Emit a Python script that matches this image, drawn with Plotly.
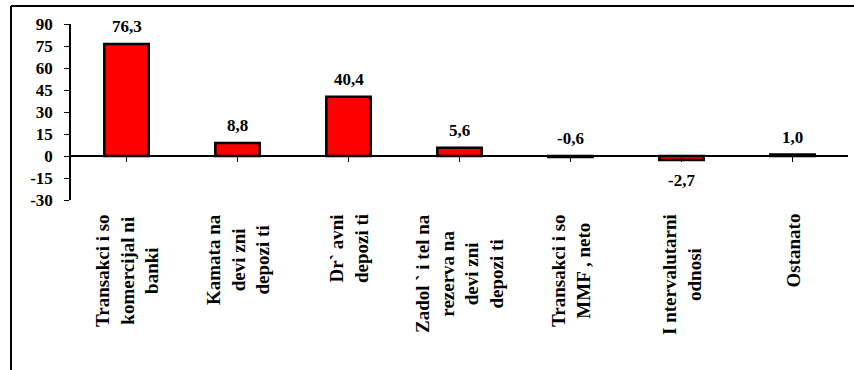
import plotly.graph_objects as go

categories = [
    "Transakci i so<br>komercijal ni<br>banki",
    "Kamata na<br>devi zni<br>depozi ti",
    "Dr` avni<br>depozi ti",
    "Zadol ` i tel na<br>rezerva na<br>devi zni<br>depozi ti",
    "Transakci i so<br>MMF , neto",
    "I ntervalutarni<br>odnosi",
    "Ostanato",
]
values = [76.3, 8.8, 40.4, 5.6, -0.6, -2.7, 1.0]
value_labels = ["76,3", "8,8", "40,4", "5,6", "-0,6", "-2,7", "1,0"]
y_ticks = [-30, -15, 0, 15, 30, 45, 60, 75, 90]

FONT = "Liberation Serif"
W, H = 854, 370
L, R, T, B = 71, 6, 24, 170
ymin, ymax = -30, 90

x_idx = list(range(len(categories)))

fig = go.Figure()
fig.add_trace(go.Bar(
    x=x_idx, y=values, width=0.4,
    marker=dict(color="#FF0000", line=dict(color="black", width=2.5)),
    hoverinfo="skip",
))

annotations = []
for i, (v, lab) in enumerate(zip(values, value_labels)):
    below = v < -1
    annotations.append(dict(
        x=i, y=(v if below else max(v, 0)), xref="x", yref="y",
        text=lab, showarrow=False,
        yanchor="top" if below else "bottom",
        yshift=-9 if below else 6,
        font=dict(family=FONT, size=17, color="black", weight="bold"),
    ))

plot_h = H - T - B
label_top_px = 212
for i, cat in enumerate(categories):
    annotations.append(dict(
        x=i, y=-(label_top_px - (H - B)) / plot_h, xref="x", yref="paper",
        text=cat, showarrow=False, textangle=-90, align="center",
        xanchor="center", yanchor="top",
        font=dict(family=FONT, size=19, color="black", weight="bold"),
    ))

zero_pos = (0 - ymin) / (ymax - ymin)

fig.update_layout(
    width=W, height=H,
    margin=dict(l=L, r=R, t=T, b=B, pad=0),
    paper_bgcolor="white", plot_bgcolor="white",
    showlegend=False,
    annotations=annotations,
    xaxis=dict(
        range=[-0.5, len(categories) - 0.5],
        tickmode="array", tickvals=x_idx, ticktext=[""] * len(x_idx),
        tickson="boundaries", ticks="outside", ticklen=5, tickwidth=1.2, tickcolor="black",
        showline=True, linecolor="black", linewidth=1.5,
        showgrid=False, zeroline=False,
        anchor="free", position=zero_pos,
        showticklabels=False,
    ),
    yaxis=dict(
        range=[ymin, ymax], domain=[0, 1],
        tickmode="array", tickvals=y_ticks, ticktext=[str(t) for t in y_ticks],
        ticks="outside", ticklen=5, tickwidth=1.2, tickcolor="black",
        showline=True, linecolor="black", linewidth=1.5,
        showgrid=False, zeroline=False,
        ticklabelstandoff=8,
        tickfont=dict(family=FONT, size=17, color="black", weight="bold"),
    ),
    shapes=[
        dict(type="line", xref="paper", yref="paper",
             x0=(11 - L) / (W - L - R), x1=(W + 5 - L) / (W - L - R),
             y0=(H - B - 6) / plot_h, y1=(H - B - 6) / plot_h,
             line=dict(color="black", width=2)),
        dict(type="line", xref="paper", yref="paper",
             x0=(11 - L) / (W - L - R), x1=(11 - L) / (W - L - R),
             y0=(H - B - 6) / plot_h, y1=(H - B - H - 5) / plot_h,
             line=dict(color="black", width=2)),
    ],
)

fig.write_html("out.html", config={"displayModeBar": False},
               post_script="document.body.style.margin='0';")
